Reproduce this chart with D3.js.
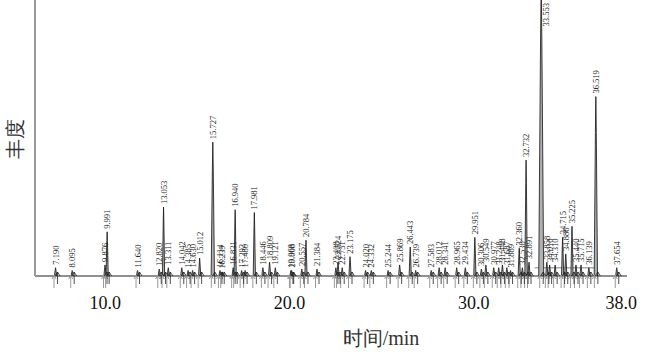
<!DOCTYPE html>
<head>
  <meta charset="utf-8">
  <style>
    body { margin: 0; background: #fff; }
    text { font-family: "Liberation Serif", "Times New Roman", serif; }
  </style>
</head>
<body>
  <div id="chart"></div>
  <script src="https://d3js.org/d3.v7.min.js"></script>
  <script>
    // retention times (min) and peak heights (relative abundance, 100 = top of frame)
    var times = [7.190, 8.095, 9.876, 9.991, 11.640, 12.820, 13.053, 13.311, 14.042, 14.385,
                 14.630, 15.012, 15.727, 16.114, 16.239, 16.831, 16.940, 17.292, 17.480, 17.981,
                 18.446, 18.809, 19.121, 19.968, 20.008, 20.557, 20.784, 21.384, 22.408, 22.524,
                 22.751, 23.175, 24.020, 24.332, 25.244, 25.869, 26.443, 26.739, 27.583, 28.012,
                 28.341, 28.965, 29.434, 29.951, 30.306, 30.549, 30.977, 31.248, 31.448, 31.687,
                 31.889, 32.360, 32.530, 32.732, 32.891, 33.553, 33.858, 34.010, 34.310, 34.715,
                 34.886, 35.225, 35.440, 35.715, 36.139, 36.519, 37.654]
    var heights = [3, 2, 4, 16, 2, 2.5, 25, 3, 3, 2,
                   2, 6.5, 48.5, 2, 1.5, 3, 24, 2, 2, 23,
                   3, 5, 3, 2, 2, 2.5, 13, 2.5, 3, 5,
                   3, 7, 2, 2, 2, 4, 10.5, 2, 2, 3,
                   3, 3, 3, 14, 2.5, 4, 3, 3, 4, 3,
                   2, 10, 3, 42, 5, 106, 5, 4, 4, 14,
                   8, 18, 4, 4, 3, 65, 3]
    var bigWidth = {"33.553": 0.09, "36.519": 0.06, "15.727": 0.06, "32.732": 0.045}
    var tickValues = [10, 20, 30, 38]
    var xLabel = "时间/min"
    var yLabel = "丰度"

    var width = 647, height = 353

    var svg = d3.select("#chart").append("svg")
      .attr("width", width)
      .attr("height", height)

    var x = d3.scaleLinear().domain([6.075, 38.21]).range([35, 627])
    var y = d3.scaleLinear().domain([0, 100]).range([276, 0])

    var peaks = times.map(function(t, i) {
      return { t: t, h: heights[i], w: bigWidth[t.toFixed(3)] || 0.04 }
    })

    svg.append("clipPath").attr("id", "clip")
      .append("rect").attr("x", 35).attr("y", 0).attr("width", 600).attr("height", 290)

    var plot = svg.append("g").attr("clip-path", "url(#clip)")

    // gray integration plateau under the late big peaks
    plot.append("line")
      .attr("x1", x(33.2)).attr("x2", x(36.6))
      .attr("y1", y(3)).attr("y2", y(3))
      .attr("stroke", "#aaa").attr("stroke-width", 1.5)

    var line = d3.line().x(function(d) { return x(d[0]) }).y(function(d) { return y(d[1]) })

    plot.selectAll(".peak")
      .data(peaks)
      .enter().append("path")
        .attr("class", "peak")
        .attr("d", function(d) {
          return line([[d.t - d.w * 1.5, 0], [d.t - d.w * 0.4, d.h * 0.8], [d.t, d.h],
                       [d.t + d.w * 0.4, d.h * 0.8], [d.t + d.w * 1.5, 0]])
        })
        .attr("fill", "#b0b0b0")
        .attr("stroke", "#111")
        .attr("stroke-width", 0.8)

    // baseline
    svg.append("line")
      .attr("x1", 35).attr("x2", 627)
      .attr("y1", y(0)).attr("y2", y(0))
      .attr("stroke", "#222").attr("stroke-width", 1.2)

    // left axis line
    svg.append("line")
      .attr("x1", 35).attr("x2", 35)
      .attr("y1", 0).attr("y2", y(0))
      .attr("stroke", "#999").attr("stroke-width", 2)

    // peak-start markers below the baseline
    var marks = svg.append("g")
    marks.selectAll(".garrow")
      .data(peaks)
      .enter().append("path")
        .attr("d", function(d) {
          var px = x(d.t) - 1.5, by = y(0)
          return "M" + px + "," + (by + 12) + "V" + (by - 1) + "M" + (px - 2) + "," + (by + 3) + "L" + px + "," + (by - 1) + "L" + (px + 2) + "," + (by + 3)
        })
        .attr("fill", "none").attr("stroke", "#999").attr("stroke-width", 1)
    marks.selectAll(".barrow")
      .data(peaks)
      .enter().append("path")
        .attr("d", function(d) {
          var px = x(d.t) + 2, by = y(0)
          return "M" + px + "," + (by + 8) + "V" + (by - 4) + "M" + (px - 2.5) + "," + (by) + "L" + px + "," + (by - 4) + "L" + (px + 2.5) + "," + (by)
        })
        .attr("fill", "none").attr("stroke", "#222").attr("stroke-width", 0.8)

    // peak labels
    svg.selectAll(".plabel")
      .data(peaks)
      .enter().append("text")
        .attr("class", "plabel")
        .attr("transform", function(d) {
          if (d.h > 100) return "translate(" + (x(d.t) + 8) + ",3) rotate(-90)"
          return "translate(" + (x(d.t) + 3) + "," + (y(d.h) - 3) + ") rotate(-90)"
        })
        .attr("text-anchor", function(d) { return d.h > 100 ? "end" : "start" })
        .attr("font-size", "8.5px")
        .attr("fill", "#222")
        .text(function(d) { return d.t.toFixed(3) })

    // x tick labels
    svg.selectAll(".tick")
      .data(tickValues)
      .enter().append("text")
        .attr("x", function(d) { return x(d) - 2 })
        .attr("y", 309)
        .attr("text-anchor", "middle")
        .attr("font-size", "18px")
        .attr("fill", "#111")
        .text(function(d) { return d.toFixed(1) })

    svg.append("text")
      .attr("x", 381).attr("y", 345)
      .attr("text-anchor", "middle")
      .attr("font-size", "20px")
      .attr("fill", "#333")
      .text(xLabel)

    svg.append("text")
      .attr("transform", "translate(22,139) rotate(-90)")
      .attr("text-anchor", "middle")
      .attr("font-size", "20px")
      .attr("fill", "#333")
      .text(yLabel)
  </script>
</body>
